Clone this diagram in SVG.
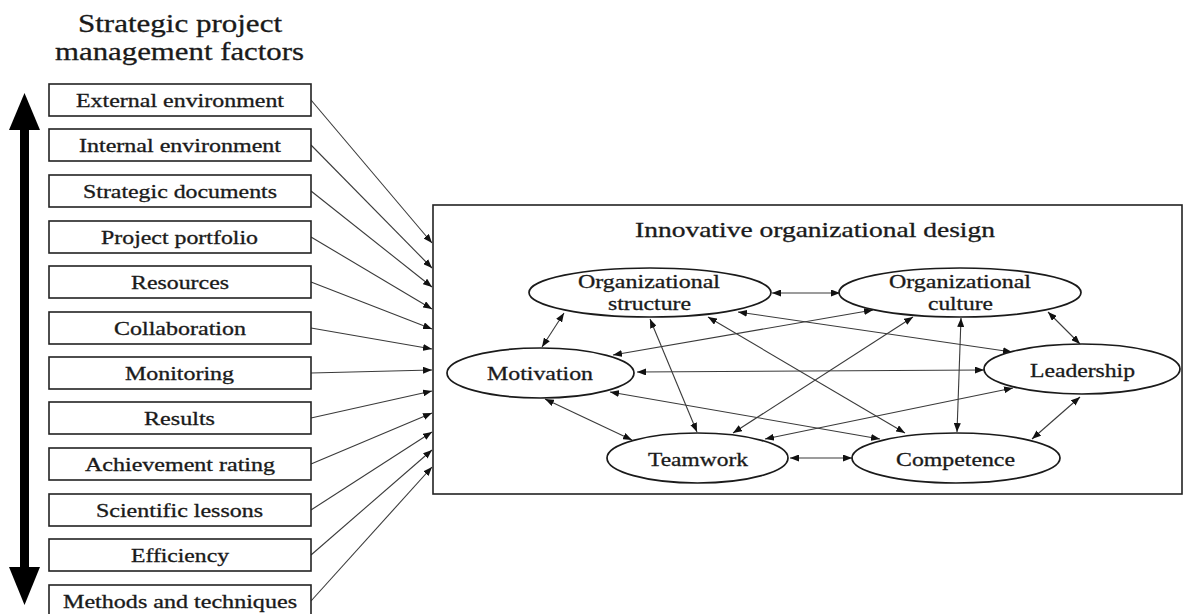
<svg xmlns="http://www.w3.org/2000/svg" width="1184" height="614" viewBox="0 0 1184 614">
<style>
text{font-family:"Liberation Serif","Times New Roman",serif;fill:#1a1a1a;stroke:#1a1a1a;stroke-width:0.3}
.bt{font-size:18px}
.et{font-size:19px}
.box{fill:#fff;stroke:#222;stroke-width:1.6}
.ell{fill:#fff;stroke:#1a1a1a;stroke-width:1.7}
.c{stroke:#3a3a3a;stroke-width:1.1;fill:none;marker-end:url(#ah)}
.d{stroke:#3a3a3a;stroke-width:1.1;fill:none;marker-start:url(#ah);marker-end:url(#ah)}
</style>
<defs>
<marker id="ah" viewBox="0 0 9 7" refX="9" refY="3.5" markerWidth="9" markerHeight="7" markerUnits="userSpaceOnUse" orient="auto-start-reverse">
<path d="M0,0 L9,3.5 L0,7 z" fill="#111"/>
</marker>
</defs>
<rect width="1184" height="614" fill="#fff"/>

<g id="title">
<text x="78" y="32" font-size="25" textLength="204" lengthAdjust="spacingAndGlyphs">Strategic project</text>
<text x="55" y="60" font-size="25" textLength="249" lengthAdjust="spacingAndGlyphs">management factors</text>
</g>

<g id="time-arrow" fill="#000">
<rect x="20" y="126" width="9" height="445"/>
<polygon points="24.5,93 9,130 40,130"/>
<polygon points="9,567 40,567 24.5,605"/>
</g>

<g id="connectors">
<line class="c" x1="311" y1="100" x2="432" y2="243"/>
<line class="c" x1="311" y1="145" x2="432" y2="268"/>
<line class="c" x1="311" y1="191" x2="432" y2="287"/>
<line class="c" x1="311" y1="237" x2="432" y2="309"/>
<line class="c" x1="311" y1="282" x2="432" y2="329"/>
<line class="c" x1="311" y1="328" x2="432" y2="349"/>
<line class="c" x1="311" y1="373" x2="432" y2="370"/>
<line class="c" x1="311" y1="418" x2="432" y2="391"/>
<line class="c" x1="311" y1="464" x2="432" y2="413"/>
<line class="c" x1="311" y1="510" x2="432" y2="432"/>
<line class="c" x1="311" y1="555" x2="432" y2="450"/>
<line class="c" x1="311" y1="601" x2="432" y2="467"/>
</g>

<g id="f1"><rect class="box" x="49" y="84" width="262" height="32"/><text class="bt" x="76" y="107" textLength="208" lengthAdjust="spacingAndGlyphs">External environment</text></g>
<g id="f2"><rect class="box" x="49" y="129" width="262" height="32"/><text class="bt" x="79" y="152" textLength="202" lengthAdjust="spacingAndGlyphs">Internal environment</text></g>
<g id="f3"><rect class="box" x="49" y="175" width="262" height="32"/><text class="bt" x="83" y="198" textLength="194" lengthAdjust="spacingAndGlyphs">Strategic documents</text></g>
<g id="f4"><rect class="box" x="49" y="221" width="262" height="32"/><text class="bt" x="101" y="244" textLength="157" lengthAdjust="spacingAndGlyphs">Project portfolio</text></g>
<g id="f5"><rect class="box" x="49" y="266" width="262" height="32"/><text class="bt" x="131" y="289" textLength="98" lengthAdjust="spacingAndGlyphs">Resources</text></g>
<g id="f6"><rect class="box" x="49" y="312" width="262" height="32"/><text class="bt" x="114" y="335" textLength="132" lengthAdjust="spacingAndGlyphs">Collaboration</text></g>
<g id="f7"><rect class="box" x="49" y="357" width="262" height="32"/><text class="bt" x="125" y="380" textLength="109" lengthAdjust="spacingAndGlyphs">Monitoring</text></g>
<g id="f8"><rect class="box" x="49" y="402" width="262" height="32"/><text class="bt" x="144" y="425" textLength="71" lengthAdjust="spacingAndGlyphs">Results</text></g>
<g id="f9"><rect class="box" x="49" y="448" width="262" height="32"/><text class="bt" x="85" y="471" textLength="190" lengthAdjust="spacingAndGlyphs">Achievement rating</text></g>
<g id="f10"><rect class="box" x="49" y="494" width="262" height="32"/><text class="bt" x="96" y="517" textLength="167" lengthAdjust="spacingAndGlyphs">Scientific lessons</text></g>
<g id="f11"><rect class="box" x="49" y="539" width="262" height="32"/><text class="bt" x="131" y="562" textLength="98" lengthAdjust="spacingAndGlyphs">Efficiency</text></g>
<g id="f12"><rect class="box" x="49" y="585" width="262" height="32"/><text class="bt" x="63" y="608" textLength="234" lengthAdjust="spacingAndGlyphs">Methods and techniques</text></g>

<g id="design">
<rect class="box" x="433" y="205" width="749" height="289"/>
<text x="635" y="237" font-size="21" textLength="360" lengthAdjust="spacingAndGlyphs">Innovative organizational design</text>
</g>

<g id="inner-connectors">
<line class="d" x1="772" y1="293" x2="840" y2="293"/>
<line class="d" x1="564" y1="313" x2="542" y2="347"/>
<line class="d" x1="650" y1="319" x2="697" y2="432"/>
<line class="d" x1="708" y1="317" x2="905" y2="433"/>
<line class="d" x1="738" y1="312" x2="1012" y2="352"/>
<line class="d" x1="873" y1="310" x2="613" y2="355"/>
<line class="d" x1="913" y1="317" x2="733" y2="433"/>
<line class="d" x1="961" y1="318" x2="957" y2="432"/>
<line class="d" x1="1048" y1="312" x2="1080" y2="344"/>
<line class="d" x1="637" y1="372" x2="984" y2="370"/>
<line class="d" x1="610" y1="392" x2="880" y2="439"/>
<line class="d" x1="545" y1="399" x2="632" y2="440"/>
<line class="d" x1="765" y1="439" x2="1013" y2="388"/>
<line class="d" x1="790" y1="458" x2="852" y2="458"/>
<line class="d" x1="1080" y1="397" x2="1032" y2="439"/>
</g>

<g id="org-structure"><ellipse class="ell" cx="650" cy="292.5" rx="121" ry="24.5"/><text class="et" x="578" y="288" textLength="142" lengthAdjust="spacingAndGlyphs">Organizational</text><text class="et" x="608" y="310" textLength="83" lengthAdjust="spacingAndGlyphs">structure</text></g>
<g id="org-culture"><ellipse class="ell" cx="960" cy="292.5" rx="121" ry="24.5"/><text class="et" x="889" y="288" textLength="142" lengthAdjust="spacingAndGlyphs">Organizational</text><text class="et" x="928" y="310" textLength="65" lengthAdjust="spacingAndGlyphs">culture</text></g>
<g id="motivation"><ellipse class="ell" cx="540.5" cy="373" rx="93.5" ry="25"/><text class="et" x="487" y="380" textLength="106" lengthAdjust="spacingAndGlyphs">Motivation</text></g>
<g id="leadership"><ellipse class="ell" cx="1082" cy="369" rx="98" ry="25"/><text class="et" x="1030" y="377" textLength="105" lengthAdjust="spacingAndGlyphs">Leadership</text></g>
<g id="teamwork"><ellipse class="ell" cx="697.5" cy="458" rx="90.5" ry="25"/><text class="et" x="648" y="466" textLength="100" lengthAdjust="spacingAndGlyphs">Teamwork</text></g>
<g id="competence"><ellipse class="ell" cx="956" cy="458" rx="104" ry="25"/><text class="et" x="896" y="466" textLength="119" lengthAdjust="spacingAndGlyphs">Competence</text></g>
</svg>
